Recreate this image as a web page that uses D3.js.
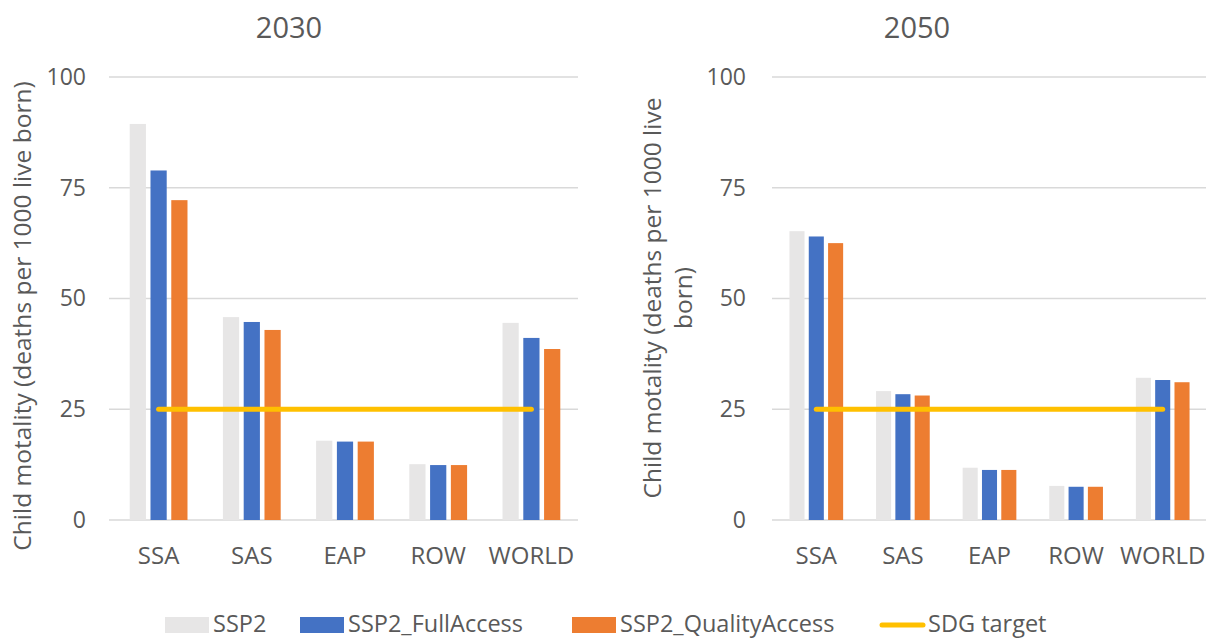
<!DOCTYPE html>
<html>
<head>
<meta charset="utf-8">
<script src="https://cdn.jsdelivr.net/npm/d3@7/dist/d3.min.js"></script>
<style>
  html, body { margin: 0; padding: 0; background: #fff; }
  svg { display: block; }
  text { font-family: "Open Sans", "Noto Sans", sans-serif; fill: #595959; }
</style>
</head>
<body>
<svg id="chart" width="1206" height="640"></svg>
<script>
// Regions and scenario series
const categories = ["SSA", "SAS", "EAP", "ROW", "WORLD"];
const seriesNames = ["SSP2", "SSP2_FullAccess", "SSP2_QualityAccess"];
const yTicks = [0, 25, 50, 75, 100];
const sdgTarget = 25;

// Child mortality, deaths per 1000 live born
const ssp2_2030        = [89.4, 45.8, 17.9, 12.6, 44.5];
const fullAccess_2030  = [78.9, 44.7, 17.7, 12.4, 41.1];
const qualAccess_2030  = [72.2, 42.9, 17.7, 12.4, 38.6];

const ssp2_2050        = [65.2, 29.1, 11.8, 7.7, 32.1];
const fullAccess_2050  = [64.0, 28.4, 11.3, 7.5, 31.6];
const qualAccess_2050  = [62.5, 28.1, 11.3, 7.5, 31.1];

const colors = {
  "SSP2": "#E7E6E6",
  "SSP2_FullAccess": "#4472C4",
  "SSP2_QualityAccess": "#ED7D31",
  "SDG target": "#FFC000"
};

const panels = [
  { title: "2030", values: [ssp2_2030, fullAccess_2030, qualAccess_2030],
    gridX0: 109, x0: 112, x1: 578, titleX: 289, tickPad: 23,
    yLabel: ["Child motality (deaths per 1000 live born)"], yLabelX: 22, yLabelY: 316 },
  { title: "2050", values: [ssp2_2050, fullAccess_2050, qualAccess_2050],
    gridX0: 772, x0: 773, x1: 1206, titleX: 917, tickPad: 26,
    yLabel: ["Child motality (deaths per 1000 live", "born)"], yLabelX: 652, yLabelY: 298 }
];

const svg = d3.select("#chart");
const yTop = 77, yBottom = 520;
const fontFamily = "'Open Sans', sans-serif";

panels.forEach(p => {
  const g = svg.append("g");
  const y = d3.scaleLinear().domain([0, 100]).range([yBottom, yTop]);
  const x = d3.scaleBand().domain(categories).range([p.x0, p.x1]).padding(0);
  const groupW = x.step() * 0.62;
  const xs = d3.scaleBand().domain(seriesNames)
    .range([-groupW / 2, groupW / 2]).paddingInner(0.22).paddingOuter(0);

  // gridlines
  g.selectAll("line.grid").data(yTicks).join("line")
    .attr("x1", p.gridX0).attr("x2", p.x1)
    .attr("y1", d => y(d)).attr("y2", d => y(d))
    .attr("stroke", "#D9D9D9").attr("stroke-width", 1.5);

  // y axis tick labels
  const yAxis = d3.axisLeft(y).tickValues(yTicks).tickSize(0).tickPadding(p.tickPad);
  const ya = g.append("g").attr("transform", `translate(${p.gridX0},0)`).call(yAxis);
  ya.select(".domain").remove();
  ya.selectAll("text").attr("font-size", 23).attr("fill", "#595959")
    .attr("font-family", fontFamily);

  // x axis category labels
  const xAxis = d3.axisBottom(x).tickSize(0).tickPadding(27);
  const xa = g.append("g").attr("transform", `translate(0,${yBottom})`).call(xAxis);
  xa.select(".domain").remove();
  xa.selectAll("text").attr("font-size", 24).attr("fill", "#595959")
    .attr("font-family", fontFamily);

  // bars
  seriesNames.forEach((s, si) => {
    g.selectAll(null).data(categories).join("rect")
      .attr("x", c => x(c) + x.bandwidth() / 2 + xs(s))
      .attr("width", xs.bandwidth())
      .attr("y", (c, i) => y(p.values[si][i]))
      .attr("height", (c, i) => yBottom - y(p.values[si][i]))
      .attr("fill", colors[s]);
  });

  // SDG target line
  const line = d3.line()
    .x(c => x(c) + x.bandwidth() / 2)
    .y(() => y(sdgTarget));
  g.append("path").datum(categories).attr("d", line)
    .attr("fill", "none").attr("stroke", colors["SDG target"])
    .attr("stroke-width", 5).attr("stroke-linecap", "round");

  // title
  g.append("text").attr("x", p.titleX).attr("y", 38)
    .attr("text-anchor", "middle").attr("font-size", 29).text(p.title);

  // y axis title
  const t = g.append("text")
    .attr("transform", `translate(${p.yLabelX},${p.yLabelY}) rotate(-90)`)
    .attr("text-anchor", "middle").attr("font-size", 24.5);
  p.yLabel.forEach((l, i) => {
    t.append("tspan").attr("x", 0).attr("dy", i === 0 ? "0.35em" : 31).text(l);
  });
});

// legend
const legendItems = [
  { name: "SSP2", x: 165, type: "rect" },
  { name: "SSP2_FullAccess", x: 300, type: "rect" },
  { name: "SSP2_QualityAccess", x: 572, type: "rect" },
  { name: "SDG target", x: 880, type: "line" }
];
const lg = svg.append("g");
const ly = 625;
legendItems.forEach(it => {
  if (it.type === "rect") {
    lg.append("rect").attr("x", it.x).attr("y", ly - 8).attr("width", 44).attr("height", 16)
      .attr("fill", colors[it.name]);
  } else {
    lg.append("line").attr("x1", it.x + 2).attr("x2", it.x + 43)
      .attr("y1", ly).attr("y2", ly)
      .attr("stroke", colors[it.name]).attr("stroke-width", 5).attr("stroke-linecap", "round");
  }
  lg.append("text").attr("x", it.x + 48).attr("y", ly).attr("dy", "0.3em")
    .attr("font-size", 23.5).text(it.name);
});
</script>
</body>
</html>
